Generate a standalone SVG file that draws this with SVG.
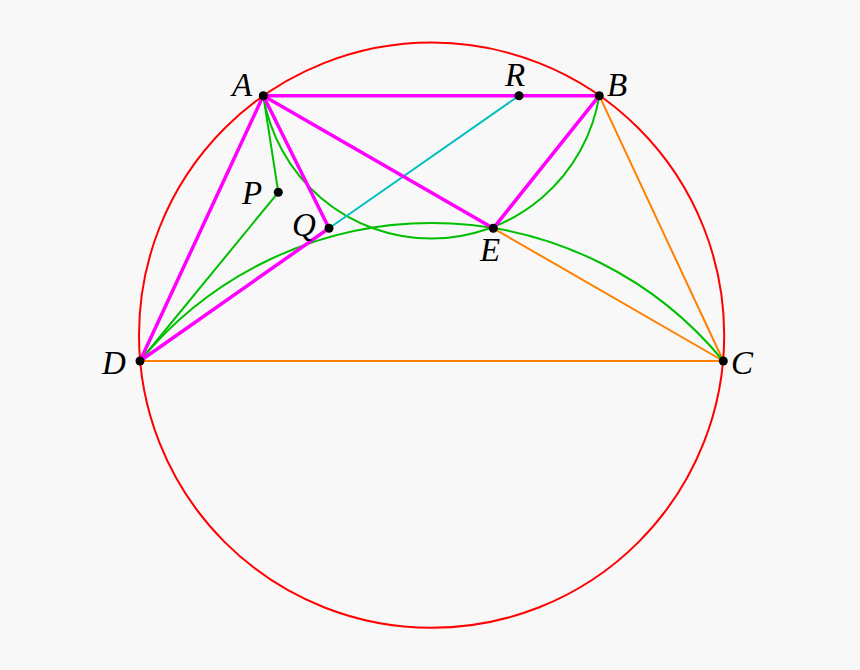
<svg xmlns="http://www.w3.org/2000/svg" width="860" height="670" viewBox="0 0 860 670">
<style>
.red{fill:none;stroke:#ff0000;stroke-width:2}
.mag{fill:none;stroke:#ff00ff;stroke-width:3.5;stroke-linecap:round}
.grn{fill:none;stroke:#00bf00;stroke-width:2}
.org{fill:none;stroke:#ff8000;stroke-width:2}
.cyn{fill:none;stroke:#00bfbf;stroke-width:2}
.dot{fill:#000}
.lbl{font-family:"Liberation Serif","DejaVu Serif",serif;font-style:italic;font-size:33px;fill:#000}
</style>
<rect x="0" y="0" width="860" height="670" fill="#f8f8f8"/>
<g id="circle"><circle class="red" cx="431.6" cy="335.2" r="292.6"/></g>
<g id="connectors">
<line class="org" x1="140" y1="361" x2="723.3" y2="361"/>
<line class="org" x1="599.3" y1="95.7" x2="723.3" y2="361"/>
<line class="org" x1="493.3" y1="228.3" x2="723.3" y2="361"/>
<path class="grn" d="M263.3 95.7 A170.2 170.2 0 0 0 599.3 95.7"/>
<path class="grn" d="M140 361 A377.2 377.2 0 0 1 723.3 361"/>
<line class="grn" x1="263.3" y1="95.7" x2="278.3" y2="192.3"/>
<line class="grn" x1="278.3" y1="192.3" x2="140" y2="361"/>
<line class="cyn" x1="329" y1="228.3" x2="519" y2="95.7"/>
<line class="mag" x1="263.3" y1="95.7" x2="599.3" y2="95.7"/>
<line class="mag" x1="263.3" y1="95.7" x2="140" y2="361"/>
<line class="mag" x1="263.3" y1="95.7" x2="493.3" y2="228.3"/>
<line class="mag" x1="263.3" y1="95.7" x2="329" y2="228.3"/>
<line class="mag" x1="599.3" y1="95.7" x2="493.3" y2="228.3"/>
<line class="mag" x1="140" y1="361" x2="329" y2="228.3"/>
</g>
<g id="A"><circle class="dot" cx="263.3" cy="95.7" r="4.5"/><text class="lbl" x="232" y="96">A</text></g>
<g id="B"><circle class="dot" cx="599.3" cy="95.7" r="4.5"/><text class="lbl" x="607" y="96">B</text></g>
<g id="C"><circle class="dot" cx="723.3" cy="361" r="4.5"/><text class="lbl" x="731" y="374">C</text></g>
<g id="D"><circle class="dot" cx="140" cy="361" r="4.5"/><text class="lbl" x="102" y="374">D</text></g>
<g id="E"><circle class="dot" cx="493.3" cy="228.3" r="4.5"/><text class="lbl" x="480" y="261">E</text></g>
<g id="P"><circle class="dot" cx="278.3" cy="192.3" r="4.5"/><text class="lbl" x="242" y="204">P</text></g>
<g id="Q"><circle class="dot" cx="329" cy="228.3" r="4.5"/><text class="lbl" x="292" y="236">Q</text></g>
<g id="R"><circle class="dot" cx="519" cy="95.7" r="4.5"/><text class="lbl" x="505" y="86">R</text></g>
</svg>
